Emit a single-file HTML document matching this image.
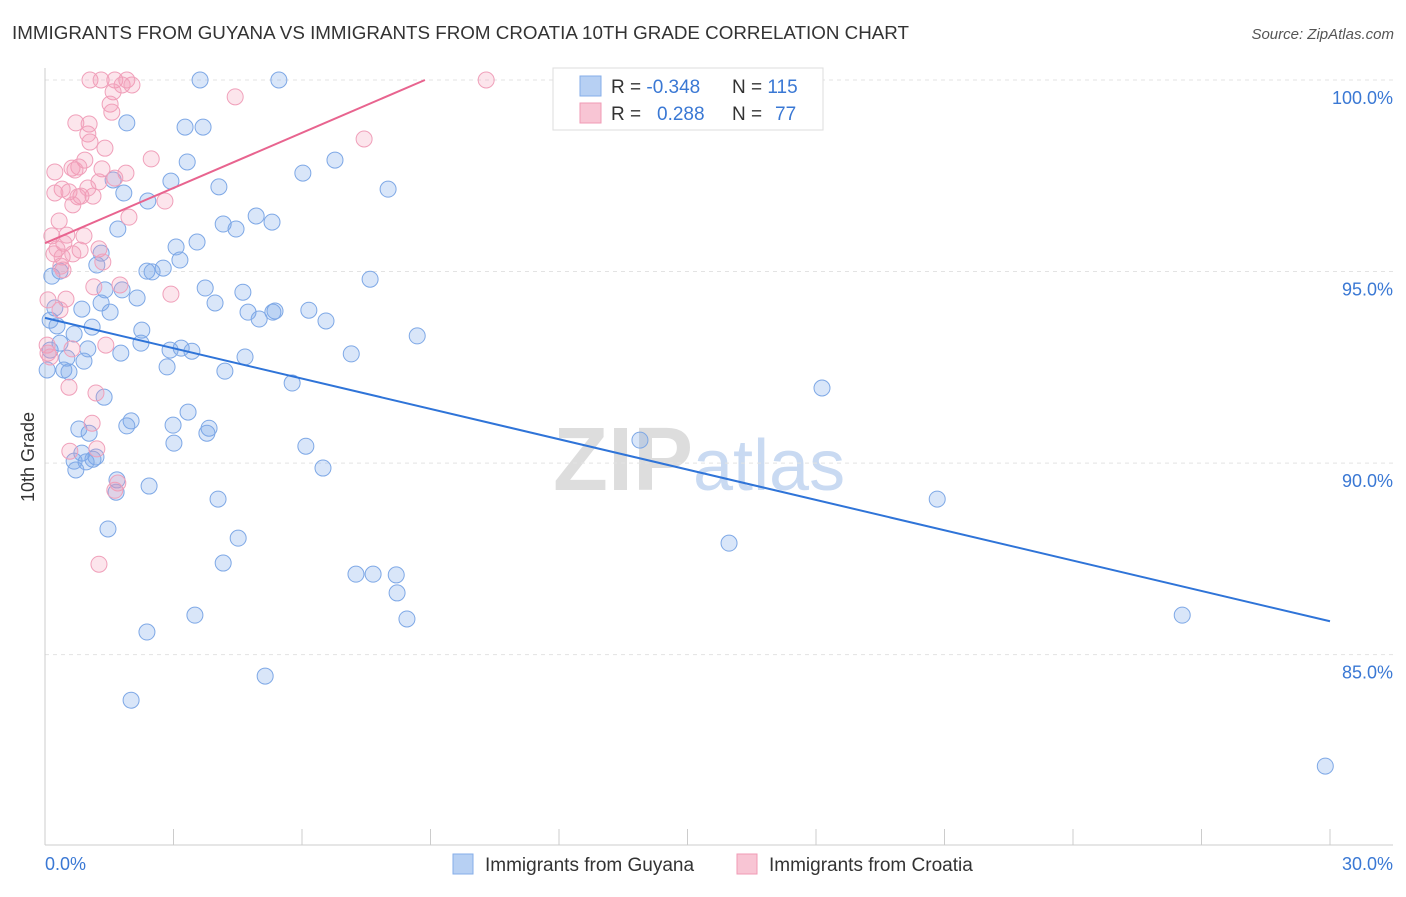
<!DOCTYPE html>
<html><head><meta charset="utf-8"><style>
body{margin:0;background:#fff;font-family:"Liberation Sans",sans-serif;}
svg text{font-family:"Liberation Sans",sans-serif;}
</style></head><body>
<svg id="chart" width="1406" height="892" viewBox="0 0 1406 892" xmlns="http://www.w3.org/2000/svg">
<text x="12" y="39" font-size="18" fill="#333" textLength="897" lengthAdjust="spacingAndGlyphs">IMMIGRANTS FROM GUYANA VS IMMIGRANTS FROM CROATIA 10TH GRADE CORRELATION CHART</text>
<text x="1394" y="39" font-size="15" fill="#555" text-anchor="end" font-style="italic">Source: ZipAtlas.com</text>
<text x="553" y="490" font-size="90" fill="#ddd" font-family="Liberation Serif" font-weight="bold">ZIP<tspan fill="#c9daf2" font-family="Liberation Sans" font-weight="normal" font-size="72">atlas</tspan></text>
<g id="grid"></g>
<g id="axes"></g>
<g id="pts"></g>
<g id="lines"></g>
<text transform="translate(34,457) rotate(-90)" font-size="18" fill="#333" text-anchor="middle">10th Grade</text>
<g>
<rect x="553" y="68" width="270" height="62" fill="#fff" stroke="#ddd"/>
<rect x="580" y="76" width="21" height="20" fill="#b7d0f3" stroke="#86aee8"/>
<rect x="580" y="103" width="21" height="20" fill="#f8c5d4" stroke="#f09ab5"/>
<text x="611" y="93" font-size="19" fill="#333">R = <tspan fill="#3a78d4">-0.348</tspan></text>
<text x="732" y="93" font-size="19" fill="#333">N = <tspan fill="#3a78d4">115</tspan></text>
<text x="611" y="120" font-size="19" fill="#333">R = <tspan fill="#3a78d4" x="657">0.288</tspan></text>
<text x="732" y="120" font-size="19" fill="#333">N = <tspan fill="#3a78d4" x="775">77</tspan></text>
</g>
<g>
<rect x="453" y="854" width="20" height="20" fill="#b7d0f3" stroke="#86aee8"/>
<text x="485" y="871" font-size="19" fill="#333">Immigrants from Guyana</text>
<rect x="737" y="854" width="20" height="20" fill="#f8c5d4" stroke="#f09ab5"/>
<text x="769" y="871" font-size="19" fill="#333">Immigrants from Croatia</text>
</g>
</svg>
<script>
const xTicks=[0,3,6,9,12,15,18,21,24,27,30];
const yTicks=[100,95,90,85];
const yTickLabels=["100.0%","95.0%","90.0%","85.0%"];
const guyanaX=[3.62,5.46,1.91,3.27,3.69,3.32,6.77,6.02,8.01,2.94,4.06,1.59,1.84,2.40,4.93,5.30,4.16,4.46,1.70,3.55,3.06,1.31,3.15,2.76,2.38,2.50,1.21,0.35,7.59,0.16,3.74,4.62,1.40,1.80,2.15,1.31,3.97,0.23,0.86,1.52,4.74,5.00,5.37,5.32,6.16,6.56,0.12,0.28,1.10,2.26,0.68,8.69,0.35,1.00,2.24,1.77,3.18,2.92,3.43,4.67,7.15,0.51,0.91,0.44,0.56,2.85,4.20,5.77,18.14,1.38,3.34,2.01,2.99,1.91,3.83,3.78,1.03,0.79,3.01,6.09,13.89,0.86,1.19,1.12,0.68,0.96,0.72,6.49,1.68,1.66,2.43,4.04,20.83,1.47,4.51,15.97,4.16,7.26,7.66,8.20,8.22,8.45,3.50,26.55,2.38,5.14,2.01,29.89,0.05,0.12];
const guyanaY=[100,100,98.88,98.77,98.77,97.86,97.91,97.57,97.15,97.36,97.21,97.39,97.05,96.84,96.45,96.29,96.24,96.11,96.11,95.77,95.64,95.48,95.30,95.09,95.01,94.99,95.17,95.01,94.80,94.88,94.57,94.46,94.52,94.52,94.31,94.18,94.18,94.05,94.02,93.94,93.94,93.76,93.97,93.94,93.99,93.71,93.73,93.58,93.55,93.47,93.37,93.32,93.13,92.98,93.13,92.87,93.00,92.95,92.92,92.77,92.85,92.74,92.66,92.43,92.38,92.51,92.40,92.09,91.96,91.72,91.33,91.10,90.99,90.97,90.91,90.78,90.78,90.89,90.52,90.44,90.60,90.26,90.16,90.10,90.05,90.03,89.82,89.87,89.56,89.24,89.40,89.06,89.06,88.28,88.04,87.91,87.39,87.10,87.10,87.08,86.61,85.93,86.03,86.03,85.59,84.44,83.81,82.09,92.43,92.95];
const croatiaX=[1.05,1.31,1.63,1.91,10.30,1.80,2.03,1.59,1.52,4.44,1.56,0.72,1.03,1.00,1.05,1.40,7.45,0.93,0.79,2.48,0.63,1.89,1.63,1.26,0.56,0.40,0.23,0.84,0.77,1.12,2.80,1.96,0.65,0.33,0.16,0.51,0.91,0.44,0.28,0.82,0.21,0.40,0.65,1.26,1.35,0.42,1.75,1.14,2.94,0.49,0.35,0.05,0.07,0.63,1.42,0.12,0.56,1.19,1.10,0.58,1.21,1.70,1.63,1.26,0.23,0.37,0.07,0.70,1.33,1.00];
const croatiaY=[100,100,100,100,100,99.87,99.87,99.69,99.37,99.56,99.16,98.88,98.85,98.59,98.38,98.22,98.46,97.91,97.73,97.94,97.70,97.57,97.44,97.34,97.08,97.15,97.05,96.97,96.95,96.97,96.84,96.42,96.74,96.32,95.93,95.95,95.93,95.74,95.59,95.56,95.46,95.38,95.46,95.59,95.25,95.04,94.65,94.60,94.41,94.28,94.00,93.08,92.87,92.98,93.08,92.77,91.98,91.83,91.04,90.31,90.37,89.48,89.29,87.36,97.60,95.14,94.26,97.65,97.68,97.18];
const guyanaTrend=[[0,93.79],[30,85.87]];
const croatiaTrend=[[0,95.74],[8.87,100]];
const NS="http://www.w3.org/2000/svg";
const X0=45,X1=1330,Y0=80,YMAX=100,YMIN=80.03,YB=845;
function xs(v){return X0+(v/30)*(X1-X0);}
function ys(v){return Y0+(YMAX-v)/(YMAX-YMIN)*(YB-Y0);}
function mk(tag,attrs,parent){const e=document.createElementNS(NS,tag);for(const k in attrs)e.setAttribute(k,attrs[k]);parent.appendChild(e);return e;}
const grid=document.getElementById('grid'),axes=document.getElementById('axes'),pts=document.getElementById('pts'),lines=document.getElementById('lines');
yTicks.forEach((t,i)=>{
 const l=mk('line',{x1:X0,x2:1393,y1:ys(t),y2:ys(t),stroke:'#e3e3e3','stroke-dasharray':'4,4'},grid);
 
 
 const tx=mk('text',{x:1393,y:ys(t)+24,'font-size':18,fill:'#3a78d4','text-anchor':'end'},axes);
 tx.textContent=yTickLabels[i];
 
 
});
const ax=mk('line',{x1:X0,x2:X0,y1:68,y2:YB,stroke:'#ccc'},axes);


const bx=mk('line',{x1:X0,x2:1393,y1:YB,y2:YB,stroke:'#ccc'},axes);


xTicks.forEach(t=>{
 const l=mk('line',{x1:xs(t),x2:xs(t),y1:829,y2:YB,stroke:'#ccc'},axes);
 
 
});
const xl0=mk('text',{x:45,y:870,'font-size':18,fill:'#3a78d4'},axes);xl0.textContent='0.0%';


const xl1=mk('text',{x:1393,y:870,'font-size':18,fill:'#3a78d4','text-anchor':'end'},axes);xl1.textContent='30.0%';


function series(X,Y,fill,stroke,name){
 X.forEach((x,i)=>{
  const c=mk('circle',{cx:xs(x),cy:ys(Y[i]),r:8,fill:fill,stroke:stroke,'stroke-width':1},pts);
  
  
 });
}
series(guyanaX,guyanaY,'rgba(120,165,235,0.28)','#7ea8e6','guyana-point');
series(croatiaX,croatiaY,'rgba(242,150,180,0.25)','#f0a0ba','croatia-point');
const t1=mk('line',{x1:xs(guyanaTrend[0][0]),y1:ys(guyanaTrend[0][1]),x2:xs(guyanaTrend[1][0]),y2:ys(guyanaTrend[1][1]),stroke:'#2f74d8','stroke-width':2},lines);


const t2=mk('line',{x1:xs(croatiaTrend[0][0]),y1:ys(croatiaTrend[0][1]),x2:xs(croatiaTrend[1][0]),y2:ys(croatiaTrend[1][1]),stroke:'#e8648f','stroke-width':2},lines);


</script>
</body></html>
